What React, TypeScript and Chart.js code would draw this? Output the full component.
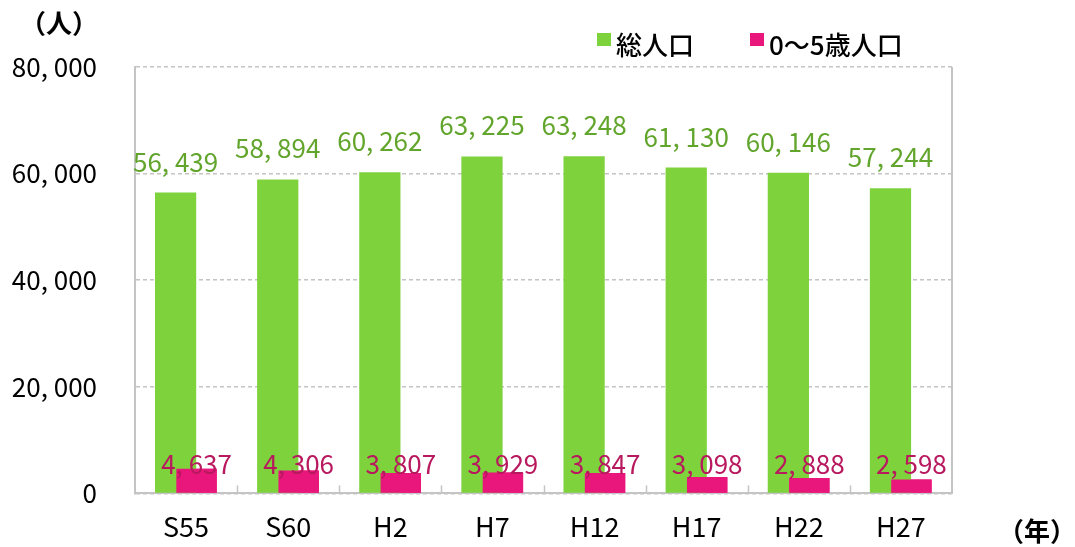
import React, { useEffect, useRef } from 'react';
import { Chart, registerables } from 'chart.js';

Chart.register(...registerables);

const categories = ['S55', 'S60', 'H2', 'H7', 'H12', 'H17', 'H22', 'H27'];
const totalPopulation = [56439, 58894, 60262, 63225, 63248, 61130, 60146, 57244];
const childPopulation = [4637, 4306, 3807, 3929, 3847, 3098, 2888, 2598];
const seriesNames = ['総人口', '0～5歳人口'];
const yMin = 0;
const yMax = 80000;
const yStep = 20000;
const yUnit = '（人）';
const xUnit = '（年）';

const GREEN = '#7ed23c';
const PINK = '#e9177c';
const GREEN_TEXT = '#62a52c';
const PINK_TEXT = '#b8185e';
const GRID = '#c4c4c4';
const NUM_FONT = '"Noto Sans CJK JP", sans-serif';
const CJK_FONT = '"Noto Sans CJK JP", sans-serif';

const fmt = (v: number) =>
  Math.round(v).toString().replace(/\B(?=(\d{3})+(?!\d))/g, ', ');

const decorPlugin = {
  id: 'decor',
  afterDatasetsDraw(chart: any) {
    const { ctx, chartArea } = chart;
    const xs = chart.scales.x;
    ctx.save();
    // draw the 0-5 series on top of the total series (Chart.js paints dataset 0 last)
    chart.getDatasetMeta(1).data.forEach((el: any) => el.draw(ctx));
    // right border
    ctx.strokeStyle = GRID;
    ctx.lineWidth = 2;
    ctx.beginPath();
    ctx.moveTo(chartArea.right, chartArea.top);
    ctx.lineTo(chartArea.right, chartArea.bottom);
    ctx.stroke();
    // inward ticks at category boundaries
    for (let i = 1; i < categories.length; i++) {
      const bx = (xs.getPixelForTick(i - 1) + xs.getPixelForTick(i)) / 2;
      ctx.beginPath();
      ctx.moveTo(Math.round(bx) + 0.5, chartArea.bottom);
      ctx.lineTo(Math.round(bx) + 0.5, chartArea.bottom - 8);
      ctx.lineWidth = 1.5;
      ctx.stroke();
    }
    // data labels
    ctx.textAlign = 'center';
    ctx.textBaseline = 'alphabetic';
    ctx.font = `26px ${NUM_FONT}`;
    const m0 = chart.getDatasetMeta(0);
    ctx.fillStyle = GREEN_TEXT;
    m0.data.forEach((el: any, i: number) => {
      ctx.fillText(fmt(totalPopulation[i]), el.x, el.y - 21);
    });
    const m1 = chart.getDatasetMeta(1);
    ctx.fillStyle = PINK_TEXT;
    m1.data.forEach((el: any, i: number) => {
      ctx.fillText(fmt(childPopulation[i]), el.x, chartArea.bottom - 19);
    });
    // legend
    const ds = chart.data.datasets;
    const legendX = [chartArea.right - 355, chartArea.right - 202];
    ctx.textAlign = 'left';
    ctx.font = `500 26px ${CJK_FONT}`;
    ds.forEach((d: any, i: number) => {
      ctx.fillStyle = d.backgroundColor;
      ctx.fillRect(legendX[i], 33, 14, 13);
      ctx.fillStyle = '#000';
      ctx.fillText(d.label, legendX[i] + 19, 55);
    });
    // units
    ctx.font = `bold 26px ${CJK_FONT}`;
    ctx.textAlign = 'center';
    ctx.fillText(yUnit, 59, 33);
    ctx.fillText(xUnit, 1037, 541);
    ctx.restore();
  },
};

export default function App() {
  const ref = useRef<HTMLCanvasElement | null>(null);
  useEffect(() => {
    document.body.style.margin = '0';
    if (!ref.current) return;
    const chart = new Chart(ref.current, {
      type: 'bar',
      data: {
        labels: categories,
        datasets: [
          {
            label: seriesNames[0],
            data: totalPopulation,
            backgroundColor: GREEN,
            categoryPercentage: 0.41,
            barPercentage: 1.97,
          },
          {
            label: seriesNames[1],
            data: childPopulation,
            backgroundColor: PINK,
            categoryPercentage: 0.41,
            barPercentage: 1.93,
          },
        ],
      },
      options: {
        animation: false,
        responsive: false,
        maintainAspectRatio: false,
        layout: { padding: { top: 67, right: 123, bottom: 0, left: 0 } },
        plugins: { legend: { display: false }, tooltip: { enabled: false } },
        scales: {
          x: {
            offset: true,
            grid: { display: false, drawTicks: false },
            border: { display: true, color: GRID, width: 2 },
            ticks: { color: '#000', font: { family: NUM_FONT, size: 27 }, padding: 17 },
            afterFit: (s: any) => { s.height = 51; },
          },
          y: {
            min: yMin,
            max: yMax,
            ticks: {
              stepSize: yStep,
              color: '#000',
              font: { family: NUM_FONT, size: 26 },
              padding: 38,
              callback: (v: any) => fmt(Number(v)),
            },
            grid: { color: GRID, lineWidth: 1.5, drawTicks: false },
            border: { display: true, color: GRID, width: 2, dash: [4, 3] },
            afterFit: (s: any) => { s.width = 135; },
          },
        },
      },
      plugins: [decorPlugin],
    });
    return () => chart.destroy();
  }, []);
  return <canvas ref={ref} width={1075} height={547} style={{ display: 'block' }} />;
}
